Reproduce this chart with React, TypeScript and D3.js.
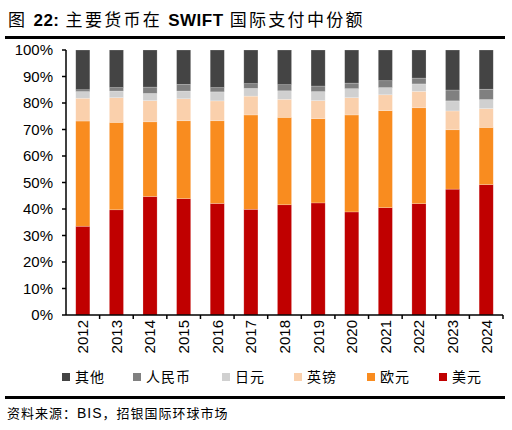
import * as d3 from "d3";

// years on the x axis
const years = ["2012", "2013", "2014", "2015", "2016", "2017", "2018", "2019", "2020", "2021", "2022", "2023", "2024"];

// shares in % (bottom to top)
const usd = [33.5, 39.7, 44.7, 43.9, 42.1, 39.9, 41.6, 42.3, 38.9, 40.5, 42.0, 47.5, 49.2];
const eur = [39.7, 33.0, 28.2, 29.4, 31.2, 35.6, 33.0, 31.8, 36.6, 36.6, 36.2, 22.4, 21.6];
const gbp = [8.6, 9.3, 8.0, 8.3, 7.5, 7.1, 6.8, 6.8, 6.5, 6.0, 6.2, 7.1, 7.1];
const jpy = [2.5, 2.5, 2.7, 2.9, 3.4, 2.9, 3.2, 3.4, 3.4, 2.7, 2.8, 3.8, 3.4];
const cny = [0.7, 1.3, 2.4, 2.5, 1.6, 1.8, 2.3, 2.1, 2.1, 2.6, 2.2, 4.1, 3.9];
const other = [15.0, 14.2, 14.0, 13.0, 14.2, 12.7, 13.1, 13.6, 12.5, 11.6, 10.6, 15.1, 14.8];

const yTicks = [0, 10, 20, 30, 40, 50, 60, 70, 80, 90, 100];

// stack order bottom -> top
const series = [
  { key: "usd", name: "美元", color: "#c00000", values: usd },
  { key: "eur", name: "欧元", color: "#f98c1f", values: eur },
  { key: "gbp", name: "英镑", color: "#fad0ac", values: gbp },
  { key: "jpy", name: "日元", color: "#d0d0d0", values: jpy },
  { key: "cny", name: "人民币", color: "#808080", values: cny },
  { key: "other", name: "其他", color: "#444444", values: other },
];

const W = 512;
const H = 430;
const plot = { left: 66, right: 503, top: 50, bottom: 315 };

const sans = "'Liberation Sans', Arial, sans-serif";
const cjk = "'Noto Sans CJK SC', sans-serif";

export default function App() {
  const rows = years.map((yr, i) => {
    const r: any = { year: yr };
    series.forEach((s) => (r[s.key] = s.values[i]));
    return r;
  });
  const stacked = d3.stack().keys(series.map((s) => s.key))(rows);

  const x = d3
    .scaleBand()
    .domain(years)
    .range([plot.left, plot.right])
    .paddingInner(0.58)
    .paddingOuter(0.29);
  const xTicks = d3.scaleBand().domain(years).range([plot.left, plot.right]);
  const y = d3.scaleLinear().domain([0, 100]).range([plot.bottom, plot.top]);

  // legend goes top item first
  const legendOrder = [...series].reverse();
  const legendX = [62, 133, 222, 294, 367, 439];

  return (
    <svg
      width={W}
      height={H}
      style={{ position: "absolute", left: 0, top: 0, background: "#fff" }}
    >
      {/* title */}
      <text x={8} y={26} fontSize={17} fill="#000" fontFamily={cjk} letterSpacing={2.3}>
        <tspan>图 </tspan>
        <tspan fontFamily={sans} fontWeight="bold" letterSpacing={0.5}>22:</tspan>
        <tspan> 主要货币在 </tspan>
        <tspan fontFamily={sans} fontWeight="bold" letterSpacing={0.5}>SWIFT</tspan>
        <tspan> 国际支付中份额</tspan>
      </text>
      <rect x={5} y={36} width={500} height={3} fill="#000" />

      {/* bars */}
      {stacked.map((layer, li) => (
        <g key={layer.key} fill={series[li].color}>
          {layer.map((d, i) => (
            <rect
              key={i}
              x={x(years[i])}
              y={y(d[1])}
              width={x.bandwidth()}
              height={y(d[0]) - y(d[1])}
              stroke="#fff"
              strokeOpacity={0.35}
              strokeWidth={0.6}
            />
          ))}
        </g>
      ))}

      {/* y axis */}
      <line x1={plot.left} x2={plot.left} y1={plot.top} y2={plot.bottom} stroke="#000" strokeWidth={1.5} />
      {yTicks.map((t) => (
        <g key={t}>
          <line x1={plot.left - 4} x2={plot.left} y1={y(t)} y2={y(t)} stroke="#000" strokeWidth={1.5} />
          <text
            x={plot.left - 13}
            y={y(t)}
            dy="0.35em"
            textAnchor="end"
            fontSize={15}
            fontFamily={sans}
            fill="#000"
          >
            {t}%
          </text>
        </g>
      ))}

      {/* x axis */}
      <line x1={plot.left} x2={plot.right} y1={plot.bottom} y2={plot.bottom} stroke="#000" strokeWidth={1.5} />
      {years.map((yr) => (
        <line
          key={yr}
          x1={(xTicks(yr) as number) + xTicks.bandwidth()}
          x2={(xTicks(yr) as number) + xTicks.bandwidth()}
          y1={plot.bottom}
          y2={plot.bottom + 4}
          stroke="#000"
          strokeWidth={1.5}
        />
      ))}
      {years.map((yr) => {
        const cx = (x(yr) as number) + x.bandwidth() / 2;
        return (
          <text
            key={yr}
            transform={`translate(${cx},${plot.bottom + 5}) rotate(-90)`}
            textAnchor="end"
            dy="0.36em"
            fontSize={15}
            fontFamily={sans}
            fill="#000"
          >
            {yr}
          </text>
        );
      })}

      {/* legend */}
      {legendOrder.map((s, i) => (
        <g key={s.key} transform={`translate(${legendX[i]},377)`}>
          <rect x={0} y={-4} width={8} height={8} fill={s.color} />
          <text x={13} y={0} dy="0.36em" fontSize={14} fontFamily={cjk} fill="#000" letterSpacing={1}>
            {s.name}
          </text>
        </g>
      ))}

      {/* footer */}
      <rect x={5} y={396} width={500} height={3} fill="#000" />
      <text x={7} y={418} fontSize={13} fontFamily={cjk} fill="#000" letterSpacing={1}>
        <tspan>资料来源：</tspan>
        <tspan fontFamily={sans} fontSize={14}>BIS</tspan>
        <tspan>，招银国际环球市场</tspan>
      </text>
    </svg>
  );
}
